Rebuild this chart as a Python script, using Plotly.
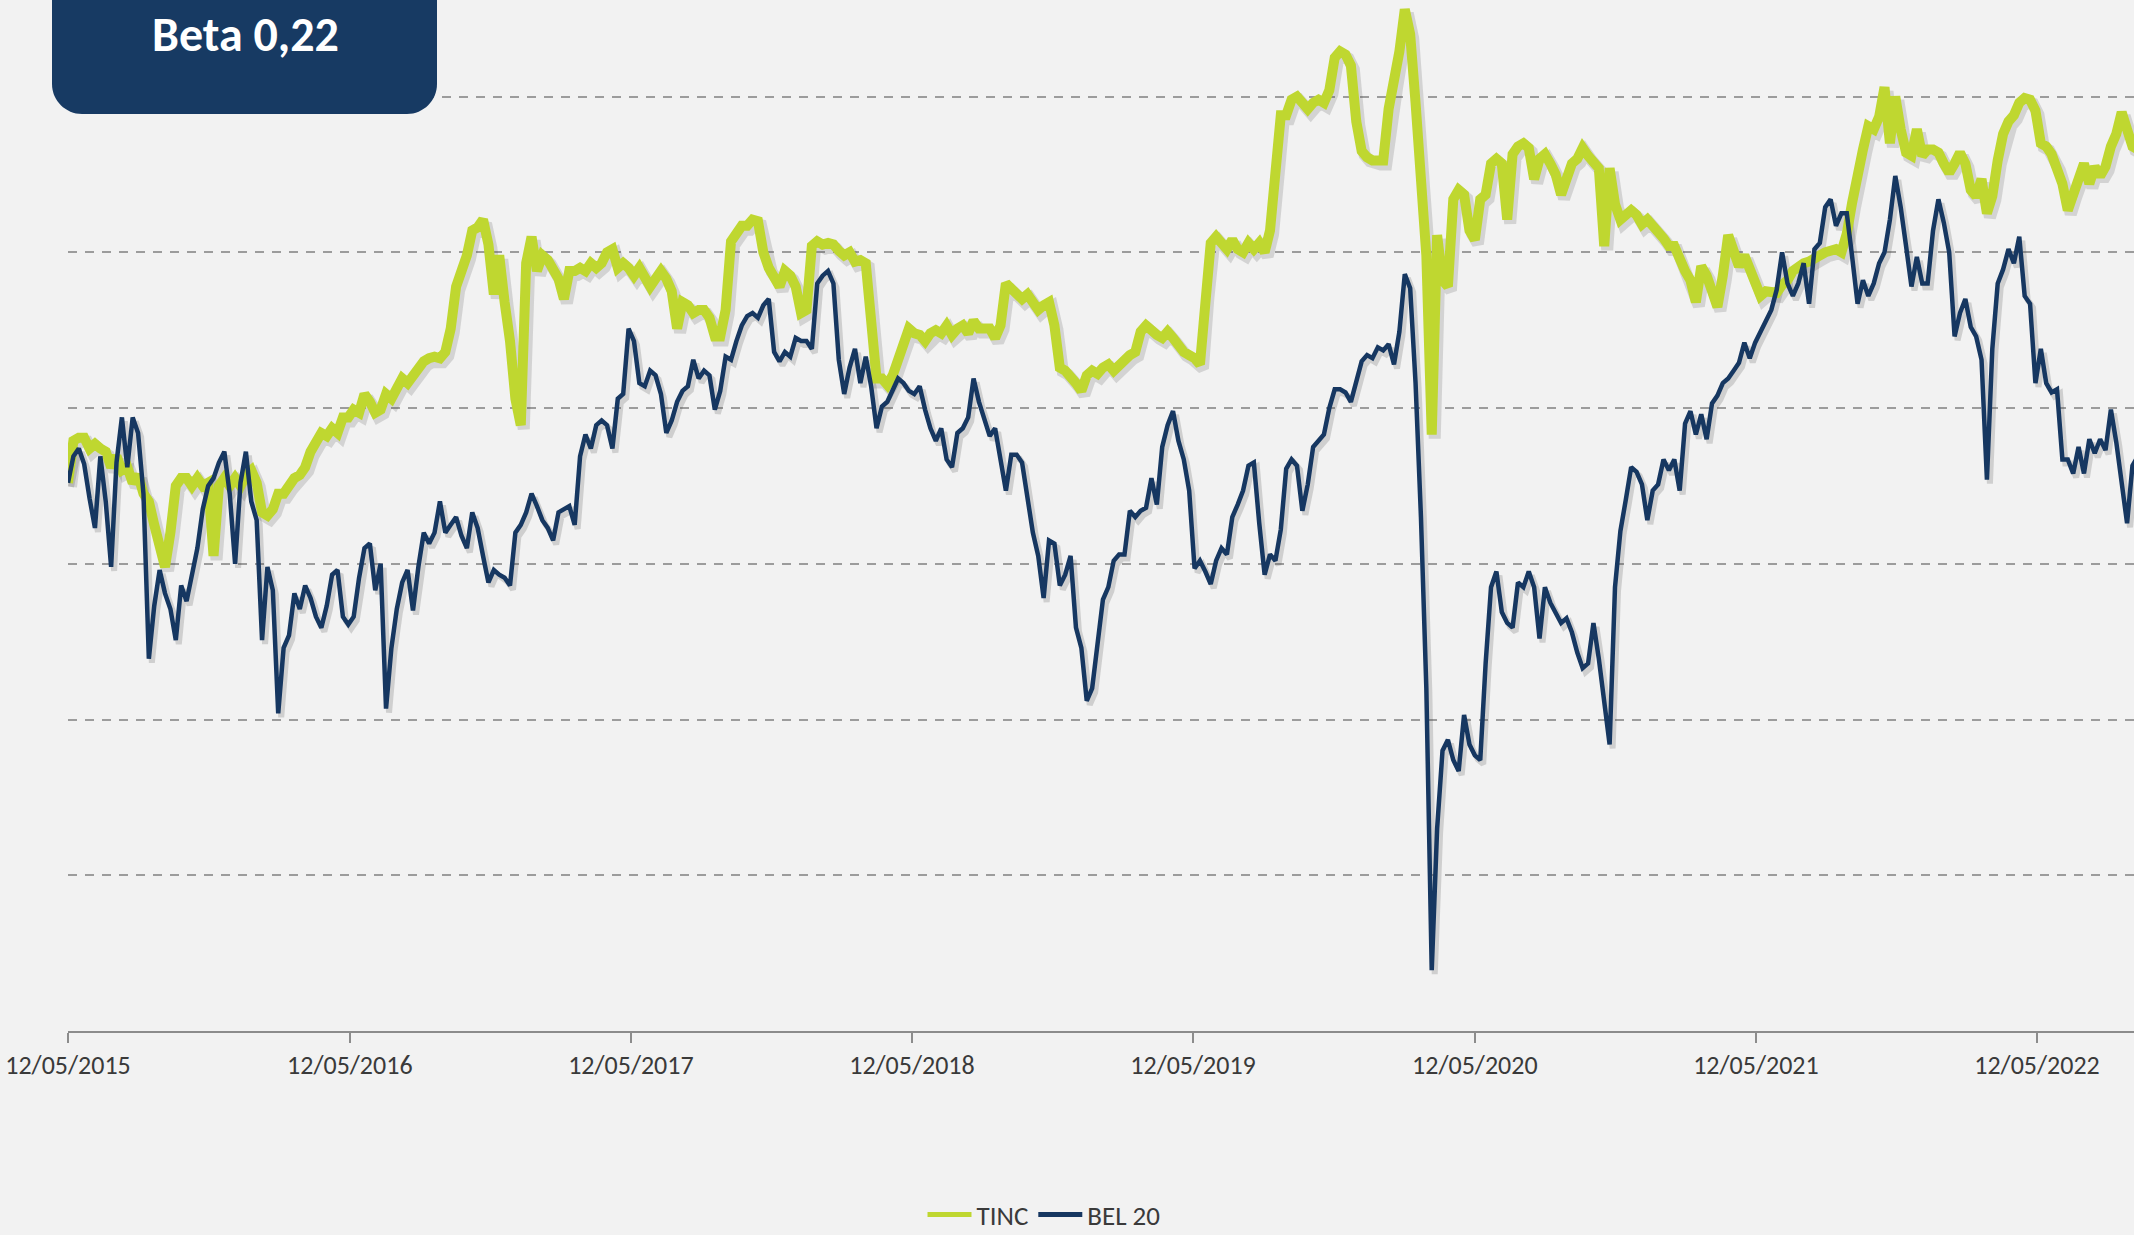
import pandas as pd
import plotly.graph_objects as go

# ---------------- data (weekly samples) ----------------
start_date = "2015-05-12"
n_points = 385
dates = pd.date_range(start=start_date, periods=n_points, freq="7D")

tick_dates = ["2015-05-12", "2016-05-12", "2017-05-12", "2018-05-12",
              "2019-05-12", "2020-05-12", "2021-05-12", "2022-05-12"]
tick_labels = ["12/05/2015", "12/05/2016", "12/05/2017", "12/05/2018",
               "12/05/2019", "12/05/2020", "12/05/2021", "12/05/2022"]

grid_levels = [10, 20, 30, 40, 50, 60]

tinc = [
    35.2, 37.9, 38.1, 38.1, 37.4, 37.7, 37.4, 37.2, 36.2, 36.9,
    36.0, 36.2, 35.2, 35.7, 34.5, 34.0, 32.5, 31.0, 29.8, 32.0,
    35.0, 35.5, 35.5, 35.0, 35.5, 35.0, 35.2, 30.5, 35.0, 35.5,
    35.0, 35.5, 35.0, 35.7, 36.0, 35.2, 33.3, 33.1, 33.5, 34.5,
    34.5, 35.0, 35.5, 35.7, 36.2, 37.2, 37.9, 38.4, 38.2, 38.7,
    38.4, 39.4, 39.4, 39.9, 39.7, 40.9, 40.4, 39.7, 39.9, 40.9,
    40.6, 41.4, 41.9, 41.6, 42.1, 42.7, 43.0, 43.2, 43.3, 43.2,
    43.6, 45.1, 47.8, 48.8, 49.8, 51.4, 51.6, 52.1, 50.5, 47.3,
    49.8, 46.8, 44.3, 40.6, 38.9, 49.3, 51.0, 48.8, 49.8, 49.5,
    49.0, 48.3, 47.0, 48.8, 48.8, 49.0, 48.8, 49.3, 49.0, 49.3,
    50.0, 50.2, 49.0, 49.3, 49.0, 48.5, 49.0, 48.5, 47.8, 48.3,
    48.8, 48.3, 47.5, 45.1, 46.8, 46.6, 46.1, 46.3, 46.3, 45.8,
    44.6, 44.6, 46.3, 50.7, 51.2, 51.7, 51.7, 52.1, 52.0, 50.0,
    49.0, 48.5, 47.8, 48.8, 48.5, 47.8, 46.1, 46.3, 50.4, 50.7,
    50.5, 50.6, 50.5, 50.1, 49.8, 50.0, 49.4, 49.5, 49.3, 45.6,
    41.9, 41.9, 41.5, 42.1, 43.1, 43.8, 45.1, 44.8, 44.7, 44.3,
    44.8, 45.0, 44.8, 45.3, 44.7, 45.1, 45.3, 44.8, 45.6, 45.1,
    45.1, 45.1, 44.5, 45.3, 48.0, 47.6, 47.3, 47.0, 47.3, 46.8,
    46.3, 46.6, 46.8, 45.3, 42.6, 42.4, 42.1, 41.6, 41.1, 42.1,
    42.4, 42.2, 42.6, 42.8, 42.4, 42.8, 43.0, 43.4, 43.6, 44.9,
    45.3, 44.9, 44.7, 44.5, 44.9, 44.5, 43.9, 43.6, 43.4, 43.2,
    42.8, 47.3, 50.6, 51.0, 50.6, 50.2, 50.8, 50.2, 50.0, 50.6,
    50.2, 50.6, 50.0, 51.4, 55.1, 58.8, 58.8, 59.8, 60.0, 59.6,
    59.2, 59.6, 59.8, 59.6, 60.4, 62.5, 62.9, 62.7, 62.0, 58.4,
    56.5, 56.1, 55.9, 55.9, 55.9, 59.2, 60.8, 62.9, 65.6, 64.0,
    59.6, 55.1, 49.8, 38.3, 51.1, 48.2, 47.8, 53.4, 54.0, 53.7,
    51.4, 50.8, 53.4, 53.7, 55.7, 56.0, 55.7, 52.1, 56.3, 56.8,
    57.0, 56.7, 54.7, 56.0, 56.3, 55.7, 55.0, 53.7, 54.7, 55.7,
    56.0, 56.7, 56.2, 55.8, 55.4, 50.4, 55.4, 53.1, 52.1, 52.4,
    52.7, 52.4, 51.8, 52.1, 51.8, 51.3, 50.9, 50.4, 50.4, 49.5,
    48.8, 48.2, 46.8, 49.1, 48.5, 47.5, 46.5, 48.5, 51.1, 50.1,
    49.1, 49.8, 48.8, 47.8, 47.2, 47.5, 47.4, 47.4, 47.9, 48.2,
    48.8, 49.1, 49.3, 49.4, 49.7, 49.8, 50.0, 50.1, 50.2, 50.0,
    51.2, 53.2, 55.3, 56.6, 58.1, 57.9, 58.7, 60.6, 57.0, 60.0,
    57.9, 56.4, 56.2, 57.9, 56.2, 56.6, 56.6, 56.4, 55.7, 55.1,
    55.7, 56.4, 55.7, 54.0, 53.6, 54.7, 52.5, 53.6, 55.9, 57.6,
    58.4, 58.8, 59.6, 59.9, 59.8, 59.1, 57.0, 56.8, 56.3, 55.5,
    54.4, 52.7, 53.8, 55.1, 55.7, 54.4, 55.5, 54.9, 55.5, 56.8,
    57.6, 59.0, 57.6, 56.8, 56.6,
]

bel20 = [
    35.2, 36.9, 37.4, 36.4, 34.2, 32.3, 36.9, 34.0, 29.8, 36.5,
    39.4, 36.2, 39.4, 38.4, 34.5, 23.9, 27.3, 29.6, 28.1, 27.1,
    25.1, 28.6, 27.6, 29.3, 31.0, 33.5, 35.0, 35.5, 36.5, 37.2,
    34.5, 30.0, 35.2, 37.2, 34.0, 32.8, 25.1, 29.8, 28.3, 20.4,
    24.6, 25.4, 28.1, 27.1, 28.6, 27.8, 26.6, 25.9, 27.3, 29.3,
    29.6, 26.6, 26.1, 26.6, 29.1, 31.0, 31.3, 28.3, 30.0, 20.7,
    24.6, 27.1, 28.8, 29.6, 27.0, 29.8, 32.0, 31.3, 32.0, 34.0,
    32.0, 32.5, 33.0, 31.8, 31.0, 33.3, 32.3, 30.5, 28.8, 29.6,
    29.3, 29.1, 28.6, 32.0, 32.5, 33.3, 34.5, 33.7, 32.8, 32.3,
    31.5, 33.3, 33.5, 33.7, 32.5, 36.9, 38.3, 37.4, 38.9, 39.2,
    38.9, 37.4, 40.6, 40.9, 45.1, 44.3, 41.6, 41.4, 42.4, 42.1,
    40.9, 38.4, 39.2, 40.4, 41.1, 41.4, 43.1, 41.9, 42.4, 42.1,
    39.9, 41.1, 43.3, 43.1, 44.3, 45.3, 45.9, 46.1, 45.8, 46.6,
    47.0, 43.6, 43.0, 43.6, 43.3, 44.5, 44.3, 44.3, 43.8, 48.0,
    48.5, 48.8, 48.0, 43.1, 40.9, 42.6, 43.8, 41.6, 43.3, 41.4,
    38.7, 40.1, 40.4, 41.1, 41.9, 41.6, 41.1, 40.9, 41.4, 39.9,
    38.7, 37.9, 38.7, 36.7, 36.2, 38.4, 38.7, 39.4, 41.9, 40.4,
    39.4, 38.2, 38.7, 36.7, 34.7, 37.0, 37.0, 36.5, 34.0, 32.0,
    30.5, 27.8, 31.5, 31.3, 28.6, 29.3, 30.5, 25.9, 24.6, 21.2,
    22.0, 24.9, 27.7, 28.5, 30.2, 30.6, 30.6, 33.4, 33.0, 33.4,
    33.6, 35.5, 33.8, 37.5, 38.9, 39.8, 37.9, 36.7, 34.7, 29.7,
    30.2, 29.5, 28.7, 30.2, 31.0, 30.6, 33.0, 33.8, 34.7, 36.3,
    36.5, 32.6, 29.3, 30.6, 30.2, 32.2, 36.1, 36.7, 36.3, 33.4,
    35.1, 37.5, 37.9, 38.3, 40.0, 41.2, 41.2, 41.0, 40.4, 41.8,
    43.0, 43.4, 43.2, 43.9, 43.7, 44.1, 42.8, 44.9, 48.6, 47.7,
    41.6, 33.0, 22.0, 3.9, 13.0, 18.0, 18.7, 17.4, 16.7, 20.3,
    18.4, 17.7, 17.4, 23.6, 28.5, 29.5, 26.9, 26.2, 25.9, 28.8,
    28.5, 29.5, 28.5, 25.2, 28.5, 27.5, 26.9, 26.2, 26.5, 25.6,
    24.3, 23.3, 23.6, 26.2, 23.9, 21.3, 18.4, 28.5, 32.1, 34.1,
    36.2, 35.9, 35.1, 32.8, 34.7, 35.1, 36.7, 36.0, 36.7, 34.7,
    39.0, 39.8, 38.3, 39.6, 38.0, 40.3, 40.8, 41.6, 41.9, 42.4,
    42.9, 44.2, 43.2, 44.2, 44.9, 45.5, 46.3, 47.6, 50.0, 48.0,
    47.2, 48.0, 49.3, 46.7, 50.2, 50.6, 52.9, 53.4, 51.7, 52.5,
    52.5, 49.7, 46.7, 48.2, 47.2, 48.0, 49.3, 50.0, 52.1, 54.9,
    52.9, 50.4, 47.8, 49.7, 48.0, 48.0, 51.4, 53.4, 51.9, 50.0,
    44.6, 46.1, 47.0, 45.2, 44.6, 43.1, 35.4, 43.8, 48.0, 48.9,
    50.2, 49.3, 51.0, 47.2, 46.7, 41.6, 43.8, 41.6, 41.0, 41.2,
    36.7, 36.7, 35.8, 37.5, 35.8, 38.0, 37.1, 38.0, 37.3, 39.9,
    37.8, 35.2, 32.6, 36.3, 36.9,
]

# ---------------- layout geometry / styles ----------------
W, H = 2134, 1235
M_L, M_R, M_T, M_B = 68, 0, 0, 204
plot_w = W - M_L - M_R
plot_h = H - M_T - M_B

x0 = pd.Timestamp(start_date)
x1 = x0 + pd.Timedelta(days=2683)
y_range = [0, 66.2]

# shadow offset (pixels) converted to axis units
sh_dx, sh_dy = 3, 4
ms_per_px = (x1 - x0) / plot_w
y_per_px = (y_range[1] - y_range[0]) / plot_h
xs0 = x0 - ms_per_px * sh_dx
xs1 = x1 - ms_per_px * sh_dx
ys = [y_range[0] + y_per_px * sh_dy, y_range[1] + y_per_px * sh_dy]

GREEN = "#BFD730"
NAVY = "#163761"
BG = "#F2F2F2"
FONT = "Carlito, Lato, sans-serif"
TXT = "#3A3A3A"

fig = go.Figure()

# soft shadows (base axes, drawn first)
fig.add_trace(go.Scatter(x=dates, y=tinc, mode="lines", xaxis="x", yaxis="y",
                         line=dict(color="rgba(70,70,70,0.18)", width=12),
                         showlegend=False, hoverinfo="skip"))
fig.add_trace(go.Scatter(x=dates, y=bel20, mode="lines", xaxis="x", yaxis="y",
                         line=dict(color="rgba(70,70,70,0.20)", width=6),
                         showlegend=False, hoverinfo="skip"))

# main series (overlay axes)
fig.add_trace(go.Scatter(x=dates, y=tinc, mode="lines", name="TINC",
                         xaxis="x2", yaxis="y2", showlegend=False,
                         line=dict(color=GREEN, width=10)))
fig.add_trace(go.Scatter(x=dates, y=bel20, mode="lines", name="BEL 20",
                         xaxis="x2", yaxis="y2", showlegend=False,
                         line=dict(color=NAVY, width=4.5)))

# legend entries (thin line samples like the original)
fig.add_trace(go.Scatter(x=[None], y=[None], mode="lines", name="TINC",
                         xaxis="x2", yaxis="y2",
                         line=dict(color=GREEN, width=5)))
fig.add_trace(go.Scatter(x=[None], y=[None], mode="lines", name="BEL 20",
                         xaxis="x2", yaxis="y2",
                         line=dict(color=NAVY, width=5)))


def px_x(p):
    return (p - M_L) / plot_w


def px_y(p):
    return (M_T + plot_h - p) / plot_h


# rounded label box (paper coords)
bx0, bx1 = px_x(52), px_x(437)
by_top, by_bot = px_y(-20), px_y(114)
rx, ry = 30 / plot_w, 30 / plot_h
k = 0.45
box_path = (
    f"M {bx0},{by_top} L {bx0},{by_bot + ry} "
    f"C {bx0},{by_bot + ry * k} {bx0 + rx * k},{by_bot} {bx0 + rx},{by_bot} "
    f"L {bx1 - rx},{by_bot} "
    f"C {bx1 - rx * k},{by_bot} {bx1},{by_bot + ry * k} {bx1},{by_bot + ry} "
    f"L {bx1},{by_top} Z"
)

fig.update_layout(
    width=W, height=H,
    margin=dict(l=M_L, r=M_R, t=M_T, b=M_B, pad=0, autoexpand=False),
    paper_bgcolor=BG, plot_bgcolor=BG,
    font=dict(family=FONT, color=TXT, size=26),
    xaxis=dict(range=[xs0, xs1], visible=False, type="date"),
    yaxis=dict(range=ys, visible=False),
    xaxis2=dict(
        overlaying="x", anchor="y2", side="bottom", type="date",
        range=[x0, x1],
        tickvals=tick_dates, ticktext=tick_labels,
        ticks="outside", ticklen=10, tickwidth=2, tickcolor="#8C8C8C",
        showline=True, linecolor="#8C8C8C", linewidth=2,
        showgrid=False, zeroline=False,
        tickfont=dict(family=FONT, size=26, color=TXT),
    ),
    yaxis2=dict(
        overlaying="y", anchor="x2", range=y_range,
        tickvals=grid_levels, showticklabels=False, ticks="",
        showgrid=True, gridcolor="#9C9C9C", gridwidth=2, griddash="9px,8px",
        zeroline=False, showline=False,
    ),
    legend=dict(
        orientation="h", x=px_x(1044), xanchor="center",
        y=px_y(1215), yanchor="middle",
        font=dict(family=FONT, size=27, color=TXT),
        bgcolor="rgba(0,0,0,0)", itemwidth=44, tracegroupgap=0,
    ),
    shapes=[dict(type="path", xref="paper", yref="paper", path=box_path,
                 fillcolor="#173A63", line=dict(width=0), layer="above")],
    annotations=[dict(
        xref="paper", yref="paper", x=px_x(245), y=px_y(34),
        text="<b>Beta 0,22</b>", showarrow=False,
        xanchor="center", yanchor="middle",
        font=dict(family=FONT, size=48, color="#FFFFFF"),
    )],
    hovermode=False,
)

fig.write_html(
    "out.html",
    config={"displayModeBar": False},
    post_script="document.body.style.margin='0';document.body.style.overflow='hidden';",
)
